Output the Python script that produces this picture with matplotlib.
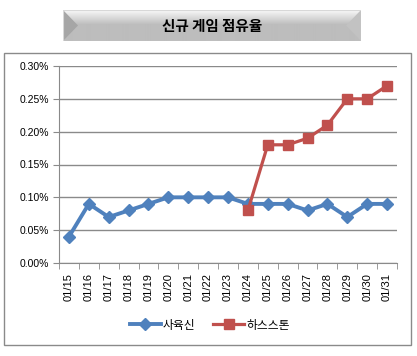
import matplotlib
matplotlib.use("Agg")
import numpy as np
import matplotlib.pyplot as plt
from matplotlib.patches import Rectangle, Polygon
from matplotlib.ticker import FuncFormatter, FixedLocator

plt.rcParams['font.family'] = ['Liberation Sans', 'Noto Sans CJK KR', 'DejaVu Sans']

dates = ["01/15", "01/16", "01/17", "01/18", "01/19", "01/20", "01/21", "01/22", "01/23",
         "01/24", "01/25", "01/26", "01/27", "01/28", "01/29", "01/30", "01/31"]
saryuksin = [0.04, 0.09, 0.07, 0.08, 0.09, 0.10, 0.10, 0.10, 0.10,
             0.09, 0.09, 0.09, 0.08, 0.09, 0.07, 0.09, 0.09]
hearthstone = [0.08, 0.18, 0.18, 0.19, 0.21, 0.25, 0.25, 0.27]
hearth_start = 9  # 하스스톤 starts on 01/24

W, H = 417, 356
fig = plt.figure(figsize=(W / 100, H / 100), dpi=100)

def fx(px):
    return px / W

def fy(py):
    return 1 - py / H

# outer chart frame
fig.patches.append(Rectangle((fx(4), fy(345)), fx(407), (345 - 53) / H, transform=fig.transFigure,
                             fill=False, edgecolor="#8a8a8a", linewidth=1))

# bevelled title banner (own axes in pixel units, y down)
x0, x1, y0, y1 = 63, 361, 10, 41
bax = fig.add_axes([fx(x0), fy(y1), fx(x1 - x0), (y1 - y0) / H])
bax.set_xlim(0, x1 - x0)
bax.set_ylim(y1 - y0, 0)
bax.axis("off")
bw, bh = x1 - x0, y1 - y0
grad = np.concatenate([np.linspace(0.97, 0.76, 14), np.full(bh - 14, 0.74)])
bax.imshow(np.tile(grad[:, None], (1, 2)), cmap="gray", vmin=0, vmax=1, aspect="auto",
           extent=[0, bw, bh, 0], interpolation="bilinear")
bax.add_patch(Polygon([(0, 0), (15, bh / 2), (0, bh)], closed=True, facecolor="#a6a6a6", edgecolor="none"))
bax.add_patch(Polygon([(bw, 0), (bw - 15, bh / 2), (bw, bh)], closed=True, facecolor="#c2c2c2", edgecolor="none"))
bax.add_patch(Rectangle((0, 0), bw, bh, fill=False, edgecolor="#d8d8d8", linewidth=0.8))
bax.text(bw / 2, bh / 2 + 0.5, "신규 게임 점유율", ha="center", va="center", fontsize=10.5,
         fontweight="bold", family=['Noto Sans CJK KR', 'DejaVu Sans'])

ax = fig.add_axes([fx(59), fy(263), fx(397 - 59), (263 - 66) / H])
x = np.arange(len(dates))
ax.plot(x, saryuksin, color="#4F81BD", linewidth=2.8, marker="D", markersize=6.5,
        label="사육신", zorder=3)
ax.plot(x[hearth_start:], hearthstone, color="#C0504D", linewidth=2.3, marker="s", markersize=7.5,
        label="하스스톤", zorder=4)

ax.set_xlim(-0.5, len(dates) - 0.5)
ax.set_ylim(0, 0.30)
ax.set_yticks(np.arange(0, 0.301, 0.05))
ax.yaxis.set_major_formatter(FuncFormatter(lambda v, p: f"{v:.2f}%"))
ax.grid(axis="y", color="#8a8a8a", linewidth=1)
ax.set_axisbelow(True)

ax.set_xticks(x)
ax.set_xticklabels(dates, rotation=90, fontsize=8)
ax.tick_params(axis="x", length=0, pad=7)
ax.xaxis.set_minor_locator(FixedLocator(np.arange(-0.5, len(dates), 1)))
ax.tick_params(axis="x", which="minor", length=4, color="#8a8a8a")
ax.tick_params(axis="y", labelsize=7.5, length=4, color="#8a8a8a", pad=3)

for s in ["top", "right"]:
    ax.spines[s].set_visible(False)
for s in ["left", "bottom"]:
    ax.spines[s].set_color("#8a8a8a")

fig.legend(loc="center", bbox_to_anchor=(fx(210), fy(325)), ncol=2, frameon=False,
           prop={"family": ['Noto Sans CJK KR', 'DejaVu Sans'], "size": 8.5},
           handlelength=2.6, columnspacing=1.5, handletextpad=0.2)

fig.savefig("out.png", dpi=100)
